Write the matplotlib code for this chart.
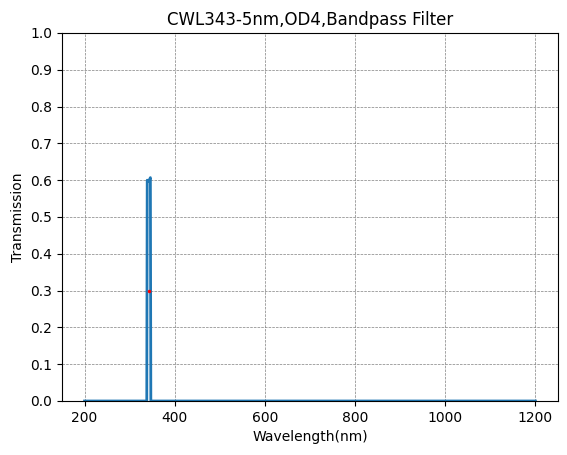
import matplotlib.pyplot as plt

wavelength = [200, 338, 339, 340, 341, 342, 343, 344, 345, 346, 347, 1200]
transmission = [0.0, 0.0, 0.6, 0.598, 0.597, 0.598, 0.6, 0.602, 0.604, 0.607, 0.0, 0.0]
half_x = [343]
half_y = [0.3]

fig = plt.figure(figsize=(5.67, 4.55), dpi=100)
fig.subplots_adjust(left=62/567, right=558/567, top=1-33/455, bottom=1-401/455)
plt.plot(wavelength, transmission, color='#1f77b4', lw=2)
plt.plot(half_x, half_y, 'r.', markersize=3)
plt.title("CWL343-5nm,OD4,Bandpass Filter")
plt.xlabel("Wavelength(nm)")
plt.ylabel("Transmission")
plt.ylim(0, 1)
plt.yticks([i / 10 for i in range(11)])
plt.grid(True, color='gray', linestyle='--', lw=0.5)
plt.savefig("out.png")
